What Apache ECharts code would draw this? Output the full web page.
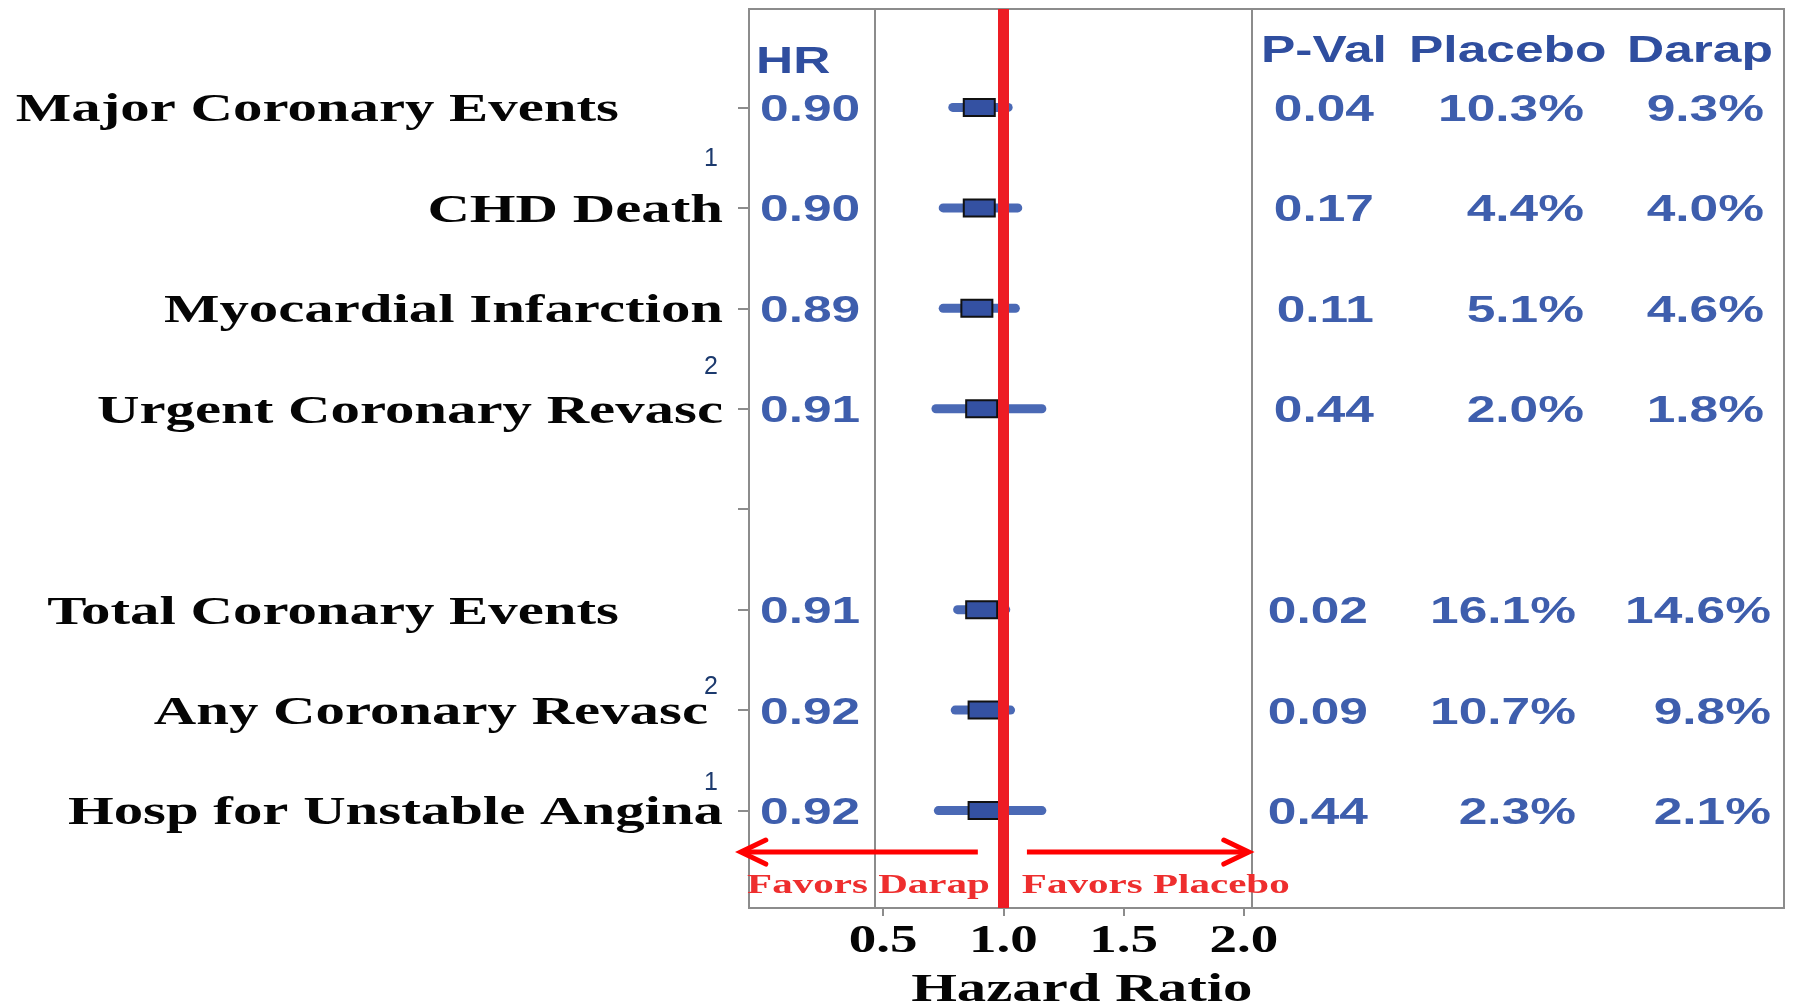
<!DOCTYPE html>
<html>
<head>
<meta charset="utf-8">
<title>Hazard Ratio – Coronary Outcomes</title>
<script src="https://cdn.jsdelivr.net/npm/echarts@6/dist/echarts.min.js"></script>
<style>
  html, body { margin: 0; padding: 0; background: #ffffff; }
  #chart { width: 1793px; height: 1005px; }
</style>
</head>
<body>
<div id="chart"></div>
<script>
// ---- Data (top to bottom; the empty entry is the spacer between the two groups) ----
const outcomes = ['Major Coronary Events', 'CHD Death', 'Myocardial Infarction', 'Urgent Coronary Revasc',
                  '', 'Total Coronary Events', 'Any Coronary Revasc', 'Hosp for Unstable Angina'];
const footnoteMarks = ['', '1', '', '2', '', '', '2', '1'];
const hazardRatio = [0.90, 0.90, 0.89, 0.91, null, 0.91, 0.92, 0.92];
const ciLower     = [0.79, 0.75, 0.75, 0.72, null, 0.81, 0.80, 0.73];
const ciUpper     = [1.02, 1.06, 1.05, 1.16, null, 1.01, 1.03, 1.16];
const pValue      = [0.04, 0.17, 0.11, 0.44, null, 0.02, 0.09, 0.44];
const placeboPct  = [10.3, 4.4, 5.1, 2.0, null, 16.1, 10.7, 2.3];
const darapPct    = [9.3, 4.0, 4.6, 1.8, null, 14.6, 9.8, 2.1];
const hrTicks     = [0.5, 1.0, 1.5, 2.0];
const tableHeaders = ['P-Val', 'Placebo', 'Darap'];
const hrHeader = 'HR';
const axisTitle = 'Hazard Ratio';
const favorsLeft = 'Favors Darap';
const favorsRight = 'Favors Placebo';

// ---- Layout ----
const TOP = 9, HEIGHT = 899;
const ROW_MIN = 0.02, ROW_MAX = 8.97;      // row axis extent (rows sit at 1..8)
const HR_HEADER_ROW = 0.52, TABLE_HEADER_ROW = 0.41;
const SERIF = '"Liberation Serif", "Times New Roman", serif';
const SANS = '"Liberation Sans", Arial, sans-serif';
const BLUE = '#3E5EAD', BLUE_HEAD = '#2F4E9F', RED = '#ED1C24', FRAME = '#8C8C8C';
const TEXT_DY = 3.5;                        // glyph centring correction for 'middle' baseline

// lettering: size and horizontal stretch per group
const LABEL_FONT = 'bold 40px ' + SERIF, LABEL_SX = 1.47;
const VALUE_FONT = 'bold 36px ' + SANS,  VALUE_SX = 1.43;
const TICK_FONT  = 'bold 39px ' + SERIF, TICK_SX = 1.41;
const TITLE_FONT = 'bold 40px ' + SERIF, TITLE_SX = 1.47;
const FAVOR_FONT = 'bold 27px ' + SERIF, FAVOR_SX = 1.52;
const NOTE_FONT  = '25px ' + SANS;

// label right edges (HR-column units, px from its left border); group headers sit further left
const labelRight = [-130, -26, -26, -26, 0, -130, -41, -26];
const footnoteRow = [0, 1.483, 0, 3.554, 0, 0, 6.74, 7.696];
// table columns: right edges per block (top block rows 1-4, lower block rows 6-8)
const colRightTop = [122, 332, 512];
const colRightLow = [116, 324, 519];
const headerLeft = [9, 157, 375];

const rows = outcomes.map((_, i) => i);

function txt(x, y, text, font, fill, align, sx) {
  return {
    type: 'text', x: x, y: y + TEXT_DY, scaleX: sx, silent: true,
    style: { text: text, x: 0, y: 0, font: font, fill: fill,
             align: align, textAlign: align, verticalAlign: 'middle', textVerticalAlign: 'middle' }
  };
}

const rowAxis = (gridIndex, showTicks) => ({
  type: 'value', gridIndex: gridIndex, inverse: true, min: ROW_MIN, max: ROW_MAX,
  axisLine: { show: false }, splitLine: { show: false },
  axisLabel: { show: false, customValues: rows.map(i => i + 1) },
  axisTick: { show: showTicks, customValues: rows.map(i => i + 1), length: 11, inside: false,
              lineStyle: { color: FRAME, width: 2 } }
});

const chart = echarts.init(document.getElementById('chart'), null, { renderer: 'canvas' });

chart.setOption({
  animation: false,
  backgroundColor: '#ffffff',
  grid: [
    { left: 749,  top: TOP, width: 126, height: HEIGHT, show: true, borderColor: FRAME, borderWidth: 2 },
    { left: 875,  top: TOP, width: 377, height: HEIGHT, show: true, borderColor: FRAME, borderWidth: 2 },
    { left: 1252, top: TOP, width: 532, height: HEIGHT, show: true, borderColor: FRAME, borderWidth: 2 }
  ],
  xAxis: [
    { type: 'value', gridIndex: 0, min: 0, max: 126, show: false },
    { type: 'value', gridIndex: 1, min: 0.5 - 1 / 30, max: 2.0 + 1 / 30, position: 'bottom',
      axisLine: { show: false }, splitLine: { show: false },
      axisLabel: { show: false, customValues: hrTicks },
      axisTick: { show: true, customValues: hrTicks, length: 8, inside: false,
                  lineStyle: { color: FRAME, width: 2 } } },
    { type: 'value', gridIndex: 2, min: 0, max: 532, show: false }
  ],
  yAxis: [rowAxis(0, true), rowAxis(1, false), rowAxis(2, false)],
  series: [
    // outcome names and footnote marks, left of the frame
    {
      type: 'custom', xAxisIndex: 0, yAxisIndex: 0, clip: false,
      data: rows.filter(i => outcomes[i]).map(i => [i, i + 1]),
      renderItem: function (params, api) {
        const i = api.value(0), row = api.value(1);
        const p = api.coord([labelRight[i], row]);
        const kids = [txt(p[0], p[1], outcomes[i], LABEL_FONT, '#050505', 'right', LABEL_SX)];
        if (footnoteMarks[i]) {
          const f = api.coord([-38, footnoteRow[i]]);
          kids.push(txt(f[0], f[1], footnoteMarks[i], NOTE_FONT, '#1C3A6E', 'center', 1.0));
        }
        return { type: 'group', children: kids };
      }
    },
    // HR column
    {
      type: 'custom', xAxisIndex: 0, yAxisIndex: 0, clip: false,
      data: rows.filter(i => hazardRatio[i] != null).map(i => [i, i + 1, hazardRatio[i]]),
      renderItem: function (params, api) {
        const row = api.value(1), hr = api.value(2);
        const p = api.coord([11, row]);
        const kids = [txt(p[0], p[1], hr.toFixed(2), VALUE_FONT, BLUE, 'left', VALUE_SX)];
        if (params.dataIndex === 0) {
          const h = api.coord([7, HR_HEADER_ROW]);
          kids.push(txt(h[0], h[1], hrHeader, VALUE_FONT, BLUE_HEAD, 'left', VALUE_SX));
        }
        return { type: 'group', children: kids };
      }
    },
    // confidence intervals and point estimates
    {
      type: 'custom', xAxisIndex: 1, yAxisIndex: 1, clip: false, z: 3,
      data: rows.filter(i => hazardRatio[i] != null).map(i => [i + 1, hazardRatio[i], ciLower[i], ciUpper[i]]),
      renderItem: function (params, api) {
        const row = api.value(0);
        const c = api.coord([api.value(1), row]);
        const a = api.coord([api.value(2), row]);
        const b = api.coord([api.value(3), row]);
        return {
          type: 'group', children: [
            { type: 'line', shape: { x1: a[0], y1: a[1], x2: b[0], y2: b[1] },
              style: { stroke: '#4A69B5', lineWidth: 9, lineCap: 'round' } },
            { type: 'rect', shape: { x: c[0] - 15.5, y: c[1] - 8.5, width: 31, height: 17 },
              style: { fill: '#3451A2', stroke: '#111111', lineWidth: 2 } }
          ]
        };
      }
    },
    // line of no effect
    {
      type: 'scatter', xAxisIndex: 1, yAxisIndex: 1, data: [], z: 6,
      markLine: {
        silent: true, symbol: 'none', animation: false,
        label: { show: false },
        lineStyle: { color: RED, width: 11, type: 'solid' },
        data: [{ xAxis: 1 }]
      }
    },
    // favour arrows, tick labels and axis title
    {
      type: 'custom', xAxisIndex: 1, yAxisIndex: 1, clip: false, z: 7,
      data: [[1, 1]],
      renderItem: function (params, api) {
        const arrowRow = 8.413;
        const l0 = api.coord([0.894, arrowRow]), l1 = api.coord([-0.091, arrowRow]);
        const r0 = api.coord([1.098, arrowRow]), r1 = api.coord([2.020, arrowRow]);
        const arrowStyle = { stroke: '#FF0000', lineWidth: 5, lineCap: 'butt', fill: null };
        const headStyle = { stroke: '#FF0000', lineWidth: 5, lineCap: 'round', lineJoin: 'miter', fill: null };
        const kids = [
          { type: 'line', shape: { x1: l0[0], y1: l0[1], x2: l1[0] + 3, y2: l1[1] }, style: arrowStyle },
          { type: 'polyline', shape: { points: [[l1[0] + 25, l1[1] - 12], [l1[0], l1[1]], [l1[0] + 25, l1[1] + 12]] }, style: headStyle },
          { type: 'line', shape: { x1: r0[0], y1: r0[1], x2: r1[0] - 3, y2: r1[1] }, style: arrowStyle },
          { type: 'polyline', shape: { points: [[r1[0] - 25, r1[1] - 12], [r1[0], r1[1]], [r1[0] - 25, r1[1] + 12]] }, style: headStyle }
        ];
        const fl = api.coord([-0.065, 8.721]);
        const fr = api.coord([1.077, 8.721]);
        kids.push(txt(fl[0], fl[1], favorsLeft, FAVOR_FONT, '#EE2E2E', 'left', FAVOR_SX));
        kids.push(txt(fr[0], fr[1], favorsRight, FAVOR_FONT, '#EE2E2E', 'left', FAVOR_SX));
        hrTicks.forEach(function (t) {
          const p = api.coord([t, 9.269]);
          kids.push(txt(p[0], p[1], t.toFixed(1), TICK_FONT, '#050505', 'center', TICK_SX));
        });
        const at = api.coord([1.326, 9.756]);
        kids.push(txt(at[0], at[1], axisTitle, TITLE_FONT, '#050505', 'center', TITLE_SX));
        return { type: 'group', children: kids };
      }
    },
    // P-value and event-rate table
    {
      type: 'custom', xAxisIndex: 2, yAxisIndex: 2, clip: false,
      data: rows.filter(i => pValue[i] != null).map(i => [i, i + 1, pValue[i], placeboPct[i], darapPct[i]]),
      renderItem: function (params, api) {
        const i = api.value(0), row = api.value(1);
        const right = i < 4 ? colRightTop : colRightLow;
        const texts = [api.value(2).toFixed(2), api.value(3).toFixed(1) + '%', api.value(4).toFixed(1) + '%'];
        const kids = texts.map(function (t, k) {
          const p = api.coord([right[k], row]);
          return txt(p[0], p[1], t, VALUE_FONT, BLUE, 'right', VALUE_SX);
        });
        if (params.dataIndex === 0) {
          tableHeaders.forEach(function (h, k) {
            const p = api.coord([headerLeft[k], TABLE_HEADER_ROW]);
            kids.push(txt(p[0], p[1], h, VALUE_FONT, BLUE_HEAD, 'left', VALUE_SX));
          });
        }
        return { type: 'group', children: kids };
      }
    }
  ]
});
</script>
</body>
</html>
